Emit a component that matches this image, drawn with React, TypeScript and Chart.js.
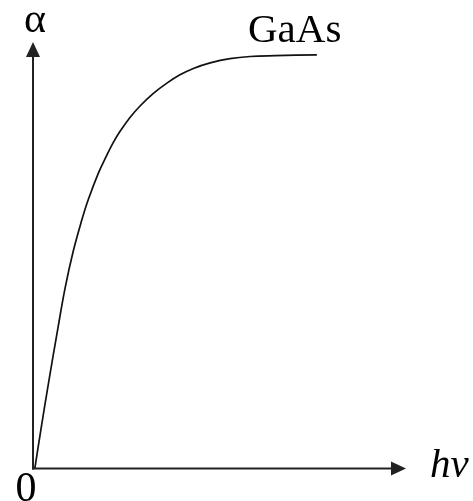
import React, { useEffect, useRef } from "react";
import { Chart, registerables } from "chart.js";

Chart.register(...registerables);

// Photon energy hv (arbitrary units) and absorption coefficient α (arbitrary units)
const photonEnergy = [
  0.05, 0.21, 0.43, 0.66, 0.86, 1.08, 1.31, 1.48, 1.75, 1.96, 2.15, 2.33,
  2.6, 2.87, 3.22, 3.58, 3.94, 4.3, 4.75, 5.28, 5.82, 6.49, 7.61,
];
const absorption = [
  0.01, 0.9, 2.08, 3.25, 4.23, 5.1, 5.83, 6.3, 6.92, 7.31, 7.64, 7.9,
  8.23, 8.5, 8.79, 9.03, 9.23, 9.38, 9.51, 9.61, 9.66, 9.68, 9.7,
];

const materialLabel = "GaAs";
const yAxisLabel = "α";
const xAxisLabel = "hv";
const originLabel = "0";

const axisRange = { min: 0, max: 10 };

const FONT = '"Liberation Serif", "Times New Roman", serif';

// Draws arrowed axes and the labels around the plot
const axesPlugin = {
  id: "arrowAxes",
  afterDatasetsDraw(chart: Chart) {
    const ctx = chart.ctx;
    const xs = chart.scales.x;
    const ys = chart.scales.y;
    const x0 = xs.getPixelForValue(axisRange.min);
    const y0 = ys.getPixelForValue(axisRange.min);
    const xEnd = xs.getPixelForValue(axisRange.max);
    const yEnd = ys.getPixelForValue(axisRange.max);
    const head = 15;
    const half = 7;

    ctx.save();
    ctx.strokeStyle = "#222";
    ctx.fillStyle = "#222";
    ctx.lineWidth = 2;

    // vertical axis
    ctx.beginPath();
    ctx.moveTo(x0, y0 + 1);
    ctx.lineTo(x0, yEnd + head);
    ctx.stroke();
    ctx.beginPath();
    ctx.moveTo(x0, yEnd);
    ctx.lineTo(x0 - half, yEnd + head);
    ctx.lineTo(x0 + half, yEnd + head);
    ctx.closePath();
    ctx.fill();

    // horizontal axis
    ctx.beginPath();
    ctx.moveTo(x0 - 1, y0);
    ctx.lineTo(xEnd - head, y0);
    ctx.stroke();
    ctx.beginPath();
    ctx.moveTo(xEnd, y0);
    ctx.lineTo(xEnd - head, y0 - half);
    ctx.lineTo(xEnd - head, y0 + half);
    ctx.closePath();
    ctx.fill();

    // labels
    ctx.fillStyle = "#000";
    ctx.textBaseline = "alphabetic";
    ctx.font = `42px ${FONT}`;
    ctx.textAlign = "center";
    ctx.fillText(yAxisLabel, x0 + 2, 32);
    ctx.fillText(originLabel, x0 - 7, 501);
    ctx.textAlign = "left";
    ctx.font = `41px ${FONT}`;
    ctx.fillText(materialLabel, 248, 42);
    ctx.font = `italic 41px ${FONT}`;
    ctx.fillText(xAxisLabel, 430, 477);
    ctx.restore();
  },
};

export default function App() {
  const canvasRef = useRef<HTMLCanvasElement | null>(null);

  useEffect(() => {
    if (!canvasRef.current) return;
    const chart = new Chart(canvasRef.current, {
      type: "line",
      data: {
        datasets: [
          {
            data: photonEnergy.map((x, i) => ({ x, y: absorption[i] })),
            borderColor: "#111",
            borderWidth: 1.7,
            pointRadius: 0,
            tension: 0.4,
            fill: false,
          },
        ],
      },
      options: {
        responsive: false,
        animation: false,
        layout: { padding: { left: 33, right: 67, top: 42, bottom: 32.5 } },
        plugins: {
          legend: { display: false },
          tooltip: { enabled: false },
        },
        scales: {
          x: { type: "linear", display: false, min: axisRange.min, max: axisRange.max },
          y: { type: "linear", display: false, min: axisRange.min, max: axisRange.max },
        },
      },
      plugins: [axesPlugin],
    });
    return () => chart.destroy();
  }, []);

  return (
    <div style={{ position: "fixed", left: 0, top: 0, width: 473, height: 501, background: "#fff" }}>
      <canvas ref={canvasRef} width={473} height={501} />
    </div>
  );
}
